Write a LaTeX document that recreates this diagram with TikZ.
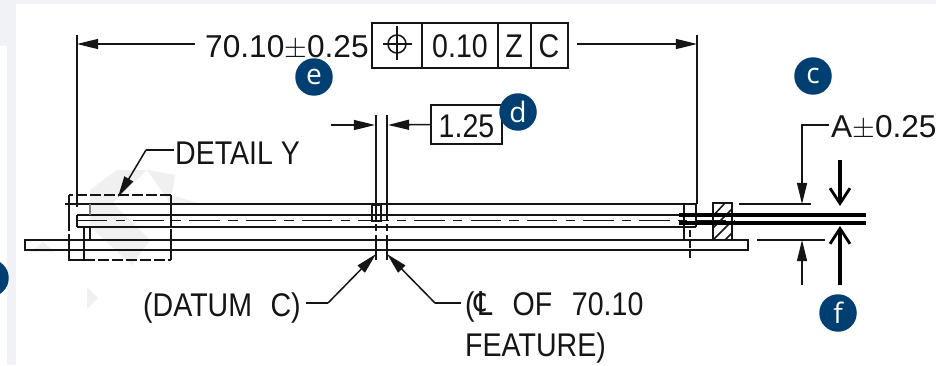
\documentclass[tikz,border=0pt]{standalone}
\usepackage{fontspec}
\setmainfont{Liberation Sans}
\newfontfamily\cadfont[FakeStretch=0.87]{Liberation Sans}
\newfontfamily\cadsym[FakeStretch=0.87]{DejaVu Sans}
\newfontfamily\badgefont{Open Sans}
\usetikzlibrary{arrows.meta}
\definecolor{badgeblue}{HTML}{003F72}
\definecolor{stripgrey}{HTML}{F1F2F6}
\definecolor{markgrey}{HTML}{F0F0F0}
\definecolor{inkblack}{HTML}{151515}
\tikzset{
  part/.style={draw=inkblack,line width=1.3pt},
  hidden/.style={part,dash pattern=on 9pt off 3pt},
  centerln/.style={part,dash pattern=on 26pt off 7pt on 8pt off 7pt},
  heavy/.style={draw=black,line width=2.8pt},
  dimtip/.style={part,-{Triangle[length=18pt,width=8.5pt]}},
  opentip/.style={heavy,-{Straight Barb[length=13pt,width=17pt,line width=2.4pt]}},
  lbl/.style={font=\fontsize{28}{30}\selectfont\cadfont,text=inkblack,inner sep=0pt,anchor=base west},
  lblplain/.style={font=\fontsize{27}{30}\selectfont,text=inkblack,inner sep=0pt,anchor=base west},
  fcftext/.style={font=\fontsize{28}{30}\selectfont\cadfont,text=inkblack,inner sep=0pt,anchor=base},
  badge/.style={circle,fill=badgeblue,text=white,minimum size=32pt,inner sep=0pt,font=\fontsize{24}{26}\selectfont\badgefont}
}
\begin{document}
\begin{tikzpicture}[x=0.03cm,y=-0.03cm]
\useasboundingbox (0,0) rectangle (936,365);
\fill[white] (0,0) rectangle (936,365);
\fill[stripgrey] (0,0) rectangle (936,4);
\fill[stripgrey] (0,0) rectangle (16,46);
\fill[stripgrey] (7,46) rectangle (16,365);
\fill[markgrey] (90,190) -- (117,170) -- (147,170) -- (113,203) -- (150,240) -- (132,265) -- (90,227) -- cycle;
\fill[markgrey] (147,170) -- (175,175) -- (172,195) -- (197,203) -- (170,203) -- cycle;
\fill[markgrey] (30,252) -- (43,242) -- (55,252) -- cycle;
\fill[markgrey] (87,287) -- (98,298) -- (87,309) -- cycle;

\node[lblplain] (lblBasic) at (205,57) {70.10$\pm$0.25};
\draw[part] (372,23) rectangle (568,68);
\draw[part] (422,23) -- (422,68);
\draw[part] (498,23) -- (498,68);
\draw[part] (531,23) -- (531,68);
\draw[part] (397,44) circle (9);
\draw[part] (383,44) -- (412,44);
\draw[part] (397,26) -- (397,60);
\node[fcftext] (lblTol) at (460,57) {0.10};
\node[fcftext] (lblZ) at (514,57) {Z};
\node[fcftext] (lblC) at (549,57) {C};
\draw[dimtip] (195,44) -- (77,44);
\draw[dimtip] (577,44) -- (697,44);
\draw[part] (77,35) -- (77,207);
\draw[part] (697,35) -- (697,204);

\draw[part] (65,204) -- (697,204);
\draw[part] (77,215) -- (680,215);
\draw[part] (77,227) -- (696,227);
\draw[part] (77,215) -- (77,227);
\draw[centerln] (77,220.5) -- (735,220.5);
\draw[part] (25,240) rectangle (748,250);
\draw[part,draw=gray] (90,204) -- (90,215);
\draw[part] (84,228) -- (84,260);
\draw[part] (90,228) -- (90,240);

\draw[part] (69,195) -- (69,220);
\draw[hidden] (69,220) -- (69,240);
\draw[part] (69,240) -- (69,260) -- (84,260);
\draw[hidden] (84,260) -- (171,260);
\draw[part] (171,260) -- (171,240);
\draw[hidden] (171,240) -- (171,215);
\draw[part] (171,215) -- (171,195);
\draw[hidden] (171,195) -- (69,195);

\draw[part] (372,205) rectangle (381,221);
\draw[part] (376,115) -- (376,221);
\draw[part] (387,115) -- (387,221);
\draw[part,dash pattern=on 6pt off 4pt] (376,224) -- (376,235);
\draw[part,dash pattern=on 6pt off 4pt] (387,224) -- (387,235);
\draw[part] (376,235) -- (376,260);
\draw[part] (387,235) -- (387,260);
\draw[dimtip] (331,125) -- (375,125);
\node[draw=inkblack,line width=1.3pt,minimum width=60.4pt,minimum height=33pt,inner sep=0pt] (boxPitch) at (466.5,124.5) {};
\node[fcftext] (lblPitch) at (466.5,137) {1.25};
\draw[dimtip] (boxPitch.west) -- (388,125);

\draw[part] (684,204) -- (684,240);
\draw[part] (696,204) -- (696,227);
\draw[part,dash pattern=on 6pt off 3pt] (690,230) -- (690,260);
\draw[part] (713,203) rectangle (732,240);
\draw[part] (713,216) -- (725,203);
\draw[part] (713,228) -- (732,209);
\draw[part] (713,240) -- (732,221);
\draw[part] (725,240) -- (732,233);
\draw[heavy] (679,215) -- (866,215);
\draw[heavy] (679,223) -- (866,223);
\draw[part] (739,204) -- (811,204);
\draw[part] (757,240) -- (825,240);
\node[lblplain] (lblThick) at (831,137) {A$\pm$0.25};
\coordinate (kneeThick) at (802,125);
\draw[part] ([xshift=-2pt]lblThick.west |- kneeThick) -- (kneeThick) -- (802,130);
\draw[dimtip] (802,130) -- (802,204);
\draw[dimtip] (802,285) -- (802,240);
\draw[opentip] (840,160) -- (840,206);
\draw[opentip] (840,285) -- (840,226);

\node[lbl] (lblDetail) at (175,164) {DETAIL Y};
\coordinate (kneeDetail) at (146,150);
\draw[part] ([xshift=-1pt]lblDetail.west |- kneeDetail) -- (kneeDetail);
\draw[dimtip] (kneeDetail) -- (118,197);
\node[lbl] (lblDatum) at (143,316) {(DATUM\hspace{9pt} C)};
\coordinate (kneeDatum) at (328,303);
\draw[part] ([xshift=4pt]lblDatum.east |- kneeDatum) -- (kneeDatum);
\draw[dimtip] (kneeDatum) -- (376,254);
\node[lbl] (lblFeat) at (465,315) {({\cadsym ℄}\hspace{10pt} OF\hspace{10pt} 70.10};
\node[lbl] (lblFeatB) at (465,356) {FEATURE)};
\coordinate (kneeFeat) at (435,303);
\draw[part] ([xshift=-3pt]lblFeat.west |- kneeFeat) -- (kneeFeat);
\draw[dimtip] (kneeFeat) -- (387,254);

\node[badge] (badgeE) at (314,77) {e};
\node[badge] (badgeD) at (518,112) {d};
\node[badge] (badgeC) at (813,76) {c};
\node[badge] (badgeF) at (838,313) {f};
\node[badge] (badgeLeft) at (-10,278) {};
\end{tikzpicture}
\end{document}
